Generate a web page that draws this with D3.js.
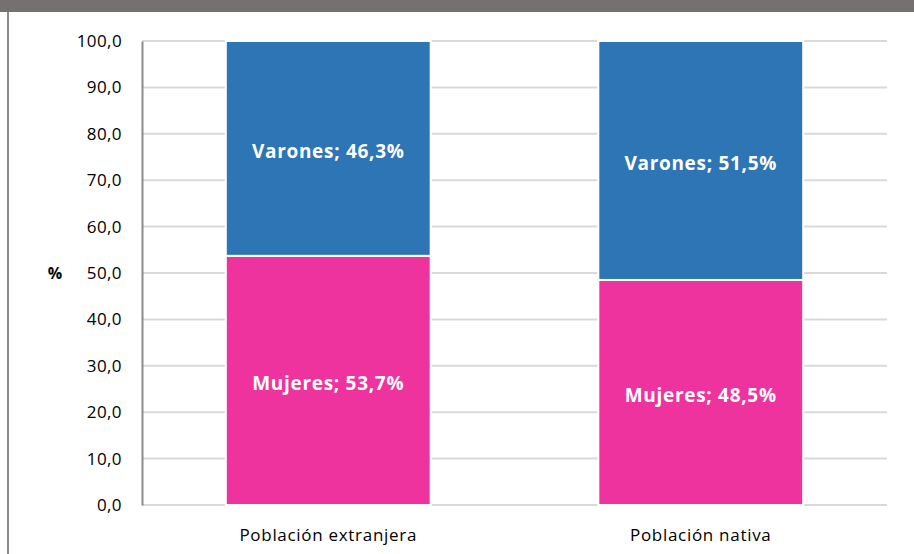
<!DOCTYPE html>
<html>
<head>
<meta charset="utf-8">
<script src="https://cdn.jsdelivr.net/npm/d3@7"></script>
<style>
  body { margin: 0; background: #fff; }
  svg { display: block; }
  svg text { font-family: "Open Sans", "Noto Sans", sans-serif; }
</style>
</head>
<body>
<svg id="chart" width="914" height="554"></svg>
<script>
// data
var categories = ['Población extranjera', 'Población nativa'];
var mujeres = [53.7, 48.5];
var varones = [46.3, 51.5];
var yTicks = [0, 10, 20, 30, 40, 50, 60, 70, 80, 90, 100];
var seriesNames = ['Mujeres', 'Varones'];
var seriesColors = ['#ee339f', '#2e75b6'];

var svg = d3.select('#chart');
var W = 914, H = 554;
var margin = {left: 142, right: 27, top: 41, bottom: 49};

// frame: gray header band and left border
svg.append('rect').attr('x', 0).attr('y', 0).attr('width', W).attr('height', 12).attr('fill', '#757171');
svg.append('rect').attr('x', 7).attr('y', 12).attr('width', 2).attr('height', H - 12).attr('fill', '#8c8c8c');

var x = d3.scaleBand()
	.domain(categories)
	.range([margin.left, W - margin.right])
	.paddingInner(0.45)
	.paddingOuter(0.225);

var y = d3.scaleLinear()
	.domain([0, 100])
	.range([H - margin.bottom, margin.top]);

// gridlines
svg.append('g').selectAll('line')
	.data(yTicks)
	.enter()
	.append('line')
	.attr('x1', margin.left)
	.attr('x2', W - margin.right)
	.attr('y1', function(d) { return y(d); })
	.attr('y2', function(d) { return y(d); })
	.attr('stroke', '#d9d9d9')
	.attr('stroke-width', 2);

// y axis
var yAxis = svg.append('g')
	.attr('transform', 'translate(' + margin.left + ',0)')
	.call(d3.axisLeft(y).tickValues(yTicks).tickSize(0).tickPadding(20)
		.tickFormat(function(d) { return d.toFixed(1).replace('.', ','); }));
yAxis.select('.domain').attr('stroke', '#8c8c8c').attr('stroke-width', 2);
yAxis.selectAll('text')
	.style('font-family', '"Open Sans", sans-serif')
	.style('font-size', '17px')
	.style('letter-spacing', '0.4px')
	.attr('fill', '#000');

svg.append('text')
	.attr('x', 55)
	.attr('y', y(50))
	.attr('dy', '0.35em')
	.attr('text-anchor', 'middle')
	.style('font-size', '16px')
	.style('font-weight', 'bold')
	.text('%');

// x axis labels
var xAxis = svg.append('g')
	.attr('transform', 'translate(0,' + (H - margin.bottom) + ')')
	.call(d3.axisBottom(x).tickSize(0).tickPadding(24));
xAxis.select('.domain').remove();
xAxis.selectAll('text')
	.style('font-family', '"Open Sans", sans-serif')
	.style('font-size', '17px')
	.style('letter-spacing', '0.7px')
	.attr('fill', '#000');

// stacked bars
var rows = categories.map(function(c, i) { return {cat: c, Mujeres: mujeres[i], Varones: varones[i]}; });
var stack = d3.stack().keys(seriesNames)(rows);

var layers = svg.append('g').selectAll('g')
	.data(stack)
	.enter()
	.append('g')
	.attr('fill', function(d, i) { return seriesColors[i]; });

layers.selectAll('rect')
	.data(function(d) { return d; })
	.enter()
	.append('rect')
	.attr('x', function(d) { return x(d.data.cat); })
	.attr('width', x.bandwidth())
	.attr('y', function(d) { return y(d[1]); })
	.attr('height', function(d) { return y(d[0]) - y(d[1]); })
	.attr('stroke', '#fff')
	.attr('stroke-width', 2);

// segment labels
layers.each(function(s) {
	d3.select(this).selectAll('text')
		.data(s)
		.enter()
		.append('text')
		.attr('x', function(d) { return x(d.data.cat) + x.bandwidth() / 2; })
		.attr('y', function(d) { return (y(d[0]) + y(d[1])) / 2; })
		.attr('dy', '0.5em')
		.attr('text-anchor', 'middle')
		.attr('fill', '#fff')
		.style('font-size', '19px')
		.style('font-weight', 'bold')
		.style('letter-spacing', '0.7px')
		.text(function(d) { return s.key + '; ' + d.data[s.key].toFixed(1).replace('.', ',') + '%'; });
});
</script>
</body>
</html>
